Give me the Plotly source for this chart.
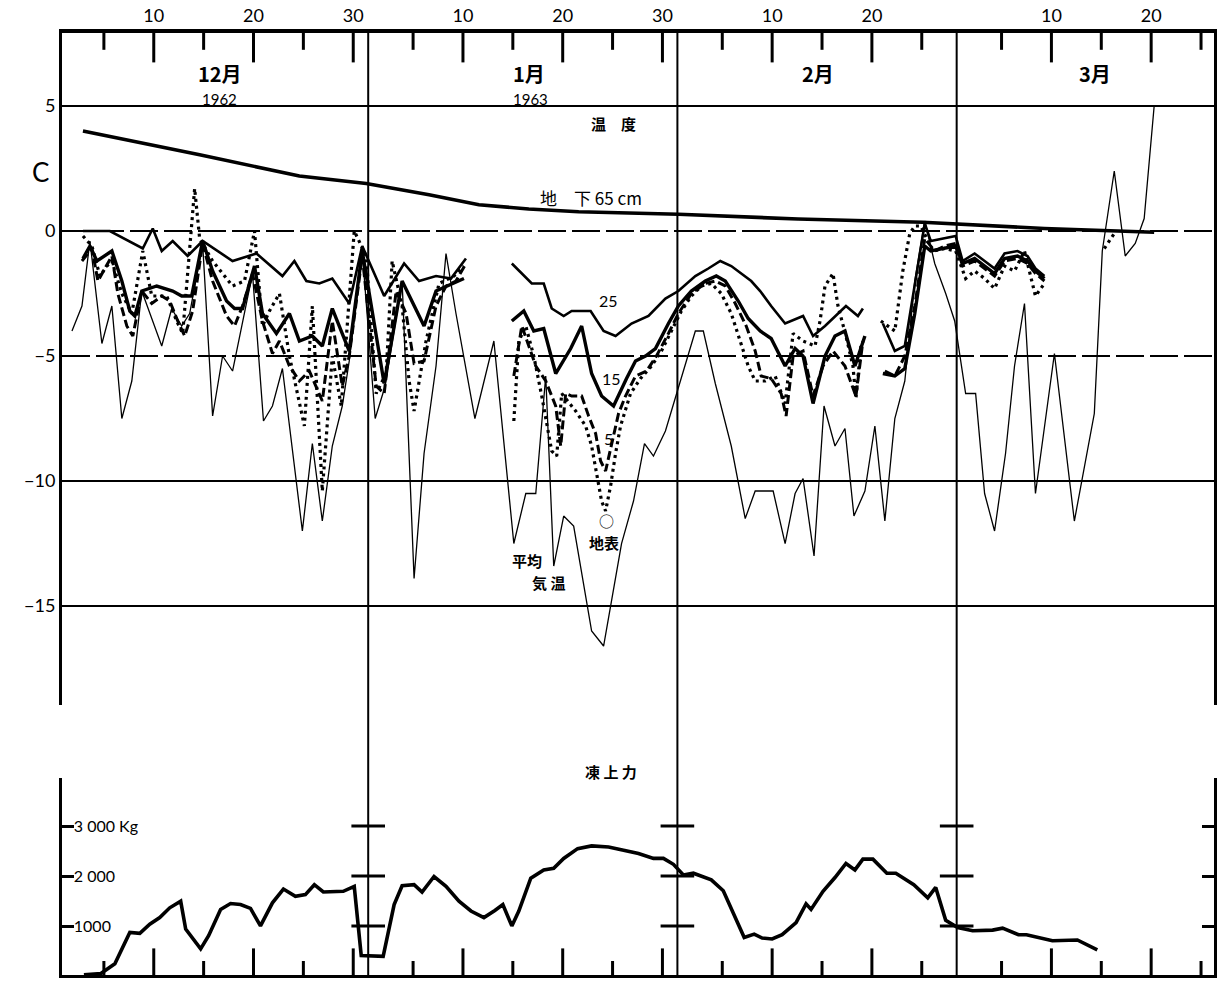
import plotly.graph_objects as go

# ---- x axis: days since 1 Dec 1962 (Dec 1 = 0, Jan 1 = 31, Feb 1 = 62, Mar 1 = 90)
major_days = [9, 19, 29, 40, 50, 60, 71, 81, 99, 109]
major_text = ["10", "20", "30", "10", "20", "30", "10", "20", "10", "20"]
minor_days = [4, 14, 24, 35, 45, 55, 66, 76, 86, 94, 104, 114]
month_bounds = [30.5, 61.5, 89.5]

temp_levels = [5, 0, -5, -10, -15]
temp_labels = ["5", "0", "−5", "−10", "−15"]
force_levels = [1000, 2000, 3000]
force_labels = ["1000", "2 000", "3 000 Kg"]

# ---- mean air temperature (thin line)
air_day = [0.8, 1.8, 2.6, 3.8, 4.8, 5.8, 6.8, 7.8, 9.8, 10.8, 11.8, 12.6, 13.9, 14.9, 15.9, 16.9, 18.9,
           20.0, 20.9, 21.9, 23.9, 24.9, 25.9, 26.9, 27.9, 28.6, 29.9, 31.2, 32.2, 33.9, 35.1, 36.1, 37.3,
           38.3, 39.3, 41.2, 43.1, 45.1, 46.3, 47.3, 48.3, 49.1, 50.1, 51.1, 52.9, 54.1, 55.9, 57.1, 58.2,
           59.1, 60.3, 61.4, 63.3, 64.1, 65.3, 66.9, 68.3, 69.3, 71.1, 72.3, 73.3, 74.1, 75.2, 76.2, 77.3,
           78.3, 79.2, 80.3, 81.3, 82.3, 83.3, 84.3, 85.3, 86.3, 87.3, 88.4, 89.3, 90.4, 91.4, 92.3, 93.3,
           94.4, 95.3, 96.3, 97.4, 99.3, 101.3, 103.3, 104.1, 105.3, 106.4, 107.4, 108.3, 109.3]
air_temp = [-4.0, -3.0, -0.4, -4.5, -3.0, -7.5, -6.0, -2.4, -4.6, -3.1, -3.8, -3.3, -0.5, -7.4, -5.0, -5.6, -1.7,
            -7.6, -7.0, -5.5, -12.0, -8.5, -11.6, -8.6, -7.0, -5.2, -0.8, -7.5, -6.2, -2.0, -13.9, -8.9, -5.4,
            -0.9, -3.3, -7.5, -4.4, -12.5, -10.5, -10.5, -5.8, -13.4, -11.4, -11.8, -16.0, -16.6, -12.5, -10.8, -8.5,
            -9.0, -8.0, -6.5, -4.0, -4.0, -6.1, -8.6, -11.5, -10.4, -10.4, -12.5, -10.5, -9.9, -13.0, -7.0, -8.6,
            -7.9, -11.4, -10.4, -7.8, -11.6, -7.5, -6.0, -2.0, 0.4, -1.3, -2.5, -3.6, -6.5, -6.5, -10.5, -12.0,
            -8.9, -5.4, -2.9, -10.5, -4.9, -11.6, -7.3, -0.8, 2.4, -1.0, -0.5, 0.5, 5.0]

# ---- ground surface (dotted)
surf_day = [1.9, 2.8, 3.6, 4.3, 4.8, 5.8, 6.8, 7.9, 8.8, 10.3, 11.3, 11.9, 13.1, 13.6, 14.9, 16.9, 18.1, 19.1,
            19.9, 20.6, 21.6, 22.6, 24.1, 24.9, 25.9, 26.9, 27.8, 29.1, 30.3, 31.3, 32.3, 32.9, 33.9, 34.6,
            35.1, 36.3, 37.6, 39.1, 40.1, None,
            45.1, 45.6, 46.3, 47.1, 47.9, 48.9, 49.4, 49.9, 51.3, 52.3, 52.9, 53.4, 53.9, 54.3, 54.8, 55.3,
            55.8, 56.8, 57.8, 58.9, 59.9, 60.9, 61.9, 62.9, 63.9, 64.9, 65.9, 66.9, 67.9, 68.6, 69.3, 70.3,
            71.3, 72.3, 73.1, 74.1, 75.3, 75.8, 76.3, 77.1, 77.6, 78.4, 79.1, 79.4, 79.9, None,
            81.9, 83.3, 84.1, 84.8, 85.3, 85.9, 87.1, 88.3, 89.4, 90.1, 90.4, 91.3, 92.3, 93.3, 94.3, 95.3,
            96.3, 97.4, 98.3, None, 104.3, 105.3]
surf_temp = [-0.2, -0.6, -1.8, -1.4, -1.2, -2.5, -3.3, -0.8, -2.6, -2.6, -3.6, -4.1, 1.7, -0.3, -1.2, -2.2, -2.0, 0.0,
             -3.8, -3.2, -2.5, -5.0, -7.8, -3.0, -10.4, -5.0, -7.0, 0.0, -1.0, -6.5, -5.7, -1.2, -3.0, -6.0,
             -7.2, -4.4, -2.1, -1.8, -1.4, None,
             -7.6, -4.4, -3.8, -5.0, -6.6, -8.8, -9.0, -6.5, -7.2, -7.8, -8.6, -9.7, -10.8, -11.2, -10.2, -8.9,
             -7.8, -6.5, -5.9, -5.4, -4.8, -4.0, -3.2, -2.6, -2.2, -2.1, -2.5, -3.3, -4.5, -5.4, -6.0, -6.0,
             -5.8, -6.9, -4.1, -4.4, -4.6, -3.6, -2.2, -1.7, -3.0, -4.2, -5.4, -6.7, -4.6, None,
             -3.6, -4.0, -1.6, -0.1, 0.2, 0.2, -0.8, -0.7, -0.8, -1.6, -1.9, -1.6, -1.9, -2.3, -1.4, -1.6,
             -0.8, -2.6, -2.1, None, -0.7, -0.1]

# ---- 5 cm depth (dashed)
d5_day = [1.8, 2.8, 3.4, 4.1, 4.8, 5.4, 6.3, 6.9, 7.8, 8.8, 9.8, 10.6, 11.4, 12.1, 12.9, 13.9, 14.9, 16.3,
          17.1, 17.9, 18.9, 19.9, 20.9, 21.6, 22.6, 23.6, 24.6, 25.9, 26.9, 27.9, 28.6, 29.9, 31.3, 32.1,
          33.3, 34.3, 35.1, 36.1, 37.3, 38.3, 39.3, 40.3, None,
          45.1, 45.9, 47.3, 48.3, 49.3, 49.8, 50.3, 50.9, 51.9, 52.6, 53.3, 53.8, 54.3, 55.6, 56.3, 57.3,
          58.4, 59.4, 60.6, 61.6, 62.9, 64.3, 65.3, 66.3, 67.3, 68.4, 69.3, 69.9, 70.9, 71.9, 72.4, 73.1,
          74.1, 75.1, 76.1, 77.1, 78.3, 79.4, 80.1, None,
          82.3, 83.3, 84.3, 85.3, 86.3, 87.3, 88.3, 89.4, 90.1, 91.3, 92.3, 93.3, 94.3, 95.6, 96.6, 97.4, 98.3]
d5_temp = [-1.2, -0.7, -2.0, -1.5, -1.0, -2.5, -3.8, -4.2, -2.4, -2.9, -2.6, -2.8, -3.6, -4.2, -3.2, -0.5, -2.0, -3.4,
           -3.8, -3.0, -1.7, -3.6, -4.9, -4.4, -5.4, -6.0, -5.6, -6.8, -3.6, -6.2, -5.0, -1.0, -6.2, -6.5,
           -2.4, -3.3, -5.3, -5.2, -3.0, -2.2, -2.0, -1.3, None,
           -5.8, -3.8, -5.4, -6.0, -7.0, -8.6, -6.5, -6.6, -6.6, -7.4, -8.1, -9.2, -9.6, -7.3, -6.6, -5.8,
           -5.6, -5.0, -4.1, -3.3, -2.5, -2.1, -2.0, -2.2, -2.9, -3.8, -4.8, -5.8, -5.9, -6.5, -7.4, -5.0,
           -4.8, -6.6, -5.4, -4.8, -5.4, -6.6, -4.4, None,
           -5.6, -5.8, -5.0, -3.0, -0.3, -0.8, -0.6, -0.5, -1.4, -1.2, -1.5, -1.8, -1.2, -1.1, -1.3, -1.7, -2.0]

# ---- 15 cm depth (heavy solid)
d15_day = [1.9, 2.6, 3.3, 4.8, 5.8, 6.6, 7.1, 7.8, 9.3, 10.9, 11.8, 12.8, 13.9, 14.9, 16.3, 17.1, 17.9, 19.1,
           19.9, 21.3, 22.6, 23.6, 24.9, 25.9, 26.9, 28.6, 29.9, 32.1, 33.9, 36.1, 37.3, 38.9, 40.1, None,
           44.9, 46.1, 47.1, 48.1, 49.3, 50.8, 51.9, 52.9, 53.9, 55.1, 56.4, 57.3, 58.3, 59.3, 60.6, 61.6,
           62.9, 64.3, 65.4, 66.3, 67.6, 68.6, 69.8, 70.9, 72.3, 73.3, 74.1, 75.1, 76.3, 77.3, 78.3, 79.3, 80.3, None,
           82.1, 83.3, 84.3, 85.3, 86.3, 86.9, 89.4, 90.1, 91.3, 92.3, 93.3, 94.3, 95.6, 96.6, 97.4, 98.3]
d15_temp = [-1.1, -0.6, -1.2, -0.8, -2.0, -3.2, -3.4, -2.4, -2.2, -2.4, -2.6, -2.6, -0.4, -1.6, -2.8, -3.1, -3.1, -1.4,
            -3.3, -4.1, -3.3, -4.4, -4.2, -4.6, -3.1, -4.8, -0.8, -6.1, -2.0, -3.8, -2.4, -2.1, -1.9, None,
            -3.6, -3.2, -4.0, -3.9, -5.7, -4.7, -3.8, -5.7, -6.6, -7.0, -5.9, -5.2, -5.0, -4.7, -3.7, -3.0,
            -2.4, -2.0, -1.8, -2.0, -2.8, -3.5, -4.0, -4.3, -5.4, -4.7, -5.0, -6.9, -5.0, -4.2, -4.0, -5.4, -4.2, None,
            -5.7, -5.8, -5.5, -3.3, -0.6, -0.8, -0.6, -1.3, -1.1, -1.4, -1.7, -1.1, -1.0, -1.2, -1.6, -1.9]

# ---- 25 cm depth (medium solid)
d25_day = [1.9, 4.6, 7.9, 8.9, 9.8, 10.9, 12.4, 13.9, 16.9, 19.3, 21.9, 23.1, 24.3, 25.6, 26.9, 28.6, 29.9,
           32.1, 34.1, 35.6, 37.3, 38.8, 40.3, None,
           44.9, 46.9, 48.1, 48.9, 50.1, 50.9, 52.8, 54.1, 55.3, 56.9, 58.6, 60.3, 61.6, 63.3, 64.6, 65.8,
           66.9, 67.9, 68.9, 69.8, 70.9, 72.3, 74.1, 75.1, 76.3, 78.4, 79.6, 80.1, None,
           82.1, 83.3, 84.3, 86.3, 86.9, 89.4, 90.1, 91.3, 92.3, 93.3, 94.3, 95.6, 96.6, 97.4, 98.3]
d25_temp = [0.0, 0.0, -0.7, 0.1, -0.8, -0.4, -1.0, -0.4, -1.2, -0.9, -1.8, -1.2, -2.0, -2.1, -1.9, -2.9, -0.6,
            -2.6, -1.3, -2.0, -1.8, -1.9, -1.1, None,
            -1.3, -2.1, -2.1, -3.1, -3.4, -3.2, -3.2, -4.0, -4.2, -3.7, -3.4, -2.7, -2.4, -1.8, -1.5, -1.2,
            -1.4, -1.7, -2.0, -2.4, -3.0, -3.7, -3.4, -4.2, -3.8, -3.0, -3.4, -3.1, None,
            -3.7, -4.8, -4.6, 0.3, -0.4, -0.2, -1.2, -0.9, -1.2, -1.5, -0.9, -0.8, -1.0, -1.5, -1.8]

# ---- 65 cm depth
d65_day = [1.9, 13.6, 23.6, 30.3, 36.6, 41.6, 46.6, 51.6, 61.6, 73.6, 86.1, 98.3, 109.3]
d65_temp = [4.0, 3.05, 2.2, 1.9, 1.45, 1.05, 0.88, 0.77, 0.67, 0.48, 0.35, 0.1, -0.05]

# ---- frost heave force (Kg)
force_day = [2.0, 2.7, 3.7, 5.1, 6.6, 7.6, 8.6, 9.6, 10.6, 11.7, 12.2, 13.7, 14.5, 15.7, 16.7, 17.7, 18.7, 19.7,
             20.9, 22.0, 23.2, 24.2, 25.1, 26.0, 28.0, 29.1, 29.8, 32.0, 33.1, 33.9, 35.1, 35.9, 37.1, 38.3,
             39.6, 40.8, 42.1, 43.2, 44.0, 44.9, 45.6, 46.8, 48.1, 49.1, 50.1, 51.5, 52.9, 54.6, 56.0, 57.6,
             59.1, 60.1, 61.1, 62.1, 63.1, 64.9, 66.1, 67.2, 68.2, 69.2, 70.0, 71.0, 72.0, 73.4, 74.4, 74.9,
             76.1, 77.3, 78.4, 79.3, 80.1, 81.1, 82.5, 83.4, 85.2, 86.6, 87.4, 88.4, 89.6, 91.1, 93.1, 94.1,
             95.7, 96.5, 99.1, 101.6, 103.6]
force_kg = [25, 30, 50, 246, 872, 852, 1036, 1168, 1364, 1496, 938, 542, 806, 1332, 1450, 1430, 1352, 1002,
            1464, 1740, 1594, 1628, 1826, 1680, 1694, 1792, 410, 392, 1430, 1806, 1826, 1680, 1990, 1792,
            1496, 1300, 1168, 1312, 1430, 1002, 1300, 1956, 2122, 2154, 2352, 2548, 2602, 2580, 2516, 2450,
            2352, 2352, 2234, 2022, 2056, 1924, 1706, 1234, 772, 838, 760, 740, 826, 1068, 1444, 1332,
            1694, 1970, 2252, 2122, 2338, 2338, 2056, 2056, 1826, 1562, 1772, 1114, 970, 904, 918, 956,
            826, 826, 706, 720, 522]

FONT = "Lato, 'Noto Sans CJK JP', sans-serif"
JP = "'Noto Sans CJK JP', sans-serif"
XR = [-0.2, 115.3]
YR_T = [-18.96, 7.92]
YR_F = [20, 3960]

fig = go.Figure()

def line(xs, ys, width, dash="solid", yaxis="y", xaxis="x"):
    fig.add_trace(go.Scatter(x=xs, y=ys, mode="lines", xaxis=xaxis, yaxis=yaxis,
                             line=dict(color="black", width=width, dash=dash),
                             connectgaps=False, hoverinfo="skip", cliponaxis=False))

line(air_day, air_temp, 1.3)
line(surf_day, surf_temp, 3.2, dash="3px,4px")
line(d5_day, d5_temp, 3.0, dash="9px,4px")
line(d15_day, d15_temp, 3.4)
line(d25_day, d25_temp, 2.6)
line(d65_day, d65_temp, 3.6)
line(force_day, force_kg, 3.6, yaxis="y2", xaxis="x2")

def ticks(days, yval, size, xaxis, yaxis):
    # tick marks along the top / bottom frame, half clipped by the plot area
    fig.add_trace(go.Scatter(x=days, y=[yval] * len(days), mode="markers", xaxis=xaxis, yaxis=yaxis,
                             hoverinfo="skip", cliponaxis=True,
                             marker=dict(symbol="line-ns", size=size, color="black",
                                         line=dict(color="black", width=3))))

ticks(major_days, YR_T[1], 42, "x", "y")
ticks(minor_days, YR_T[1], 24, "x", "y")
ticks(major_days, YR_F[0], 38, "x2", "y2")
ticks(minor_days, YR_F[0], 20, "x2", "y2")

# crosses on month lines in the lower panel
cx, cy = [], []
for b in month_bounds:
    for lv in force_levels:
        cx.append(b)
        cy.append(lv)
fig.add_trace(go.Scatter(x=cx, y=cy, mode="markers", xaxis="x2", yaxis="y2", hoverinfo="skip",
                         marker=dict(symbol="line-ew-open", size=24, color="black",
                                     line=dict(color="black", width=3))))

shapes = []
grid_dash = ["solid", "28px,6px", "28px,6px", "solid", "solid"]
for lv, dsh in zip(temp_levels, grid_dash):
    shapes.append(dict(type="line", xref="paper", x0=0, x1=1, yref="y", y0=lv, y1=lv,
                       line=dict(color="black", width=2, dash=dsh)))
for b in month_bounds:
    shapes.append(dict(type="line", xref="x", x0=b, x1=b, yref="paper", y0=0, y1=1,
                       line=dict(color="black", width=2)))

ann = []
def text(s, x, y, size, bold=False, family=FONT, xref="x", yref="y"):
    ann.append(dict(text=f"<b>{s}</b>" if bold else s, x=x, y=y, xref=xref, yref=yref,
                    showarrow=False, xanchor="center", yanchor="middle",
                    font=dict(size=size, family=family, color="black")))

text("12月", 15.6, 6.3, 20, True, JP)
text("1962", 15.6, 5.27, 15)
text("1月", 46.6, 6.3, 20, True, JP)
text("1963", 46.8, 5.27, 15)
text("2月", 75.6, 6.3, 20, True, JP)
text("3月", 103.4, 6.3, 20, True, JP)
text("温　度", 55.1, 4.32, 15, True, JP)
text("地　下 65 cm", 52.8, 1.36, 17, False, JP)
text("25", 54.6, -2.76, 16)
text("15", 54.9, -5.88, 16)
text("5", 54.6, -8.28, 16)
text("○", 54.4, -11.56, 15, False, JP)
text("地表", 54.1, -12.44, 15, True, JP)
text("平均", 46.4, -13.16, 15, True, JP)
text("気 温", 48.6, -14.04, 15, True, JP)
text("凍 上 力", 54.8, 0.2155, 15, True, JP, yref="paper")
text("C", -0.019, 2.36, 26, False, FONT, xref="paper")

fig.update_layout(
    width=1219, height=983,
    margin=dict(l=62, r=2, t=33, b=8),
    paper_bgcolor="white", plot_bgcolor="white",
    showlegend=False,
    shapes=shapes, annotations=ann,
    font=dict(family=FONT, color="black"),
    xaxis=dict(anchor="y", side="top", range=XR, showline=True, linecolor="black", linewidth=4,
               showgrid=False, zeroline=False, ticks="", tickmode="array",
               tickvals=major_days, ticktext=major_text,
               tickfont=dict(size=18, family=FONT, color="black")),
    xaxis2=dict(anchor="y2", side="bottom", range=XR, showline=True, linecolor="black", linewidth=3,
                showgrid=False, zeroline=False, ticks="", showticklabels=False),
    yaxis=dict(domain=[0.2866, 1], range=YR_T, showline=True, mirror=True,
               linecolor="black", linewidth=3, showgrid=False, zeroline=False, ticks="",
               tickmode="array", tickvals=temp_levels, ticktext=temp_labels,
               tickfont=dict(size=18, family=FONT, color="black")),
    yaxis2=dict(domain=[0, 0.2091], range=YR_F, showline=True, mirror="ticks",
                linecolor="black", linewidth=3, showgrid=False, zeroline=False,
                ticks="inside", ticklen=12, tickwidth=3, tickcolor="black",
                tickmode="array", tickvals=force_levels, ticktext=force_labels,
                ticklabelposition="inside", tickfont=dict(size=16, family=FONT, color="black")),
)

fig.write_html("out.html")
